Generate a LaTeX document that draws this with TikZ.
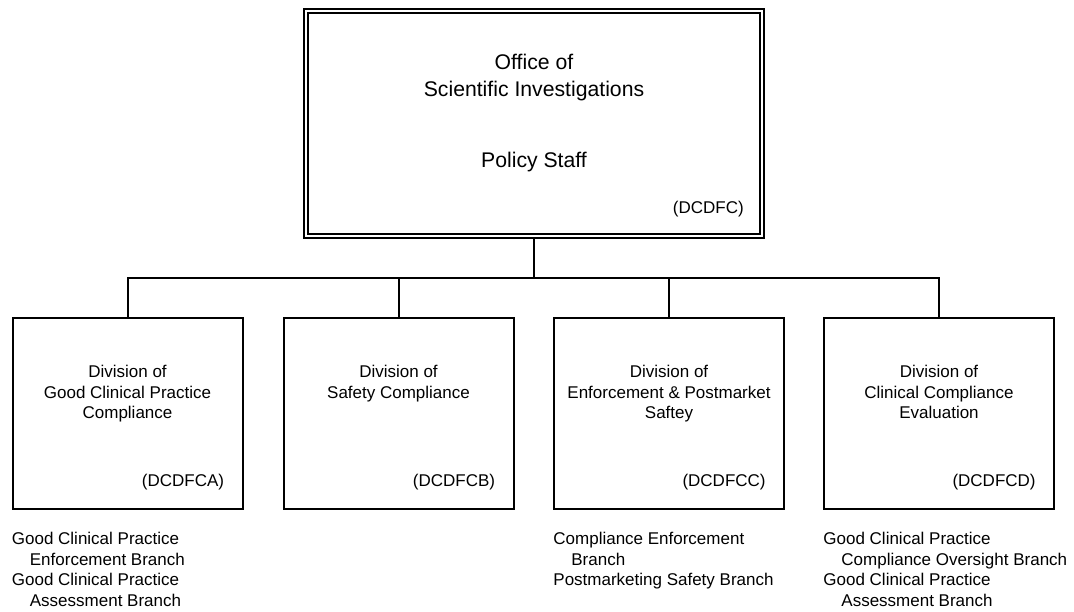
\documentclass[tikz,border=0pt]{standalone}
\usepackage{fontspec}
\setmainfont{Liberation Sans}
\usetikzlibrary{positioning}

\begin{document}
\begin{tikzpicture}[x=0.5pt, y=-0.5pt,
    office/.style={draw, double, double distance=1.2pt, line width=1.1pt,
      minimum width=228pt, minimum height=112.5pt, inner sep=0pt},
    division/.style={draw, line width=1pt, minimum width=115pt,
      minimum height=95.5pt, inner sep=0pt},
    bigtext/.style={align=center, inner sep=0pt,
      font=\fontsize{10.6}{13.5}\selectfont},
    divtext/.style={align=center, inner sep=0pt,
      font=\fontsize{8.5}{10.25}\selectfont},
    code/.style={inner sep=0pt, font=\fontsize{8.5}{10.25}\selectfont},
    branches/.style={align=left, inner sep=0pt,
      font=\fontsize{8.5}{10.25}\selectfont},
    link/.style={line width=1pt}
  ]

  % Size of the page
  \useasboundingbox (0,0) rectangle (1074,611);

  % Indent of the second line of a branch
  \newcommand{\brind}{\hspace*{9pt}}

  % The office on top
  \node[office] (osi) at (534,123.5) {};
  \node[bigtext, below=22pt of osi.north] (osiTitle) {Office of\\Scientific Investigations};
  \node[bigtext, below=71pt of osi.north] (osiStaff) {Policy Staff};
  \node[code, above left=9.75pt and 9.5pt of osi.south east] (osiCode) {(DCDFC)};

  % The four divisions
  \node[division] (divA) at (127.5,413.5) {};
  \node[division] (divB) at (398.5,413.5) {};
  \node[division] (divC) at (669,413.5) {};
  \node[division] (divD) at (939,413.5) {};

  \node[divtext, below=24pt of divA.north] (divAName) {Division of\\Good Clinical Practice\\Compliance};
  \node[divtext, below=24pt of divB.north] (divBName) {Division of\\Safety Compliance};
  \node[divtext, below=24pt of divC.north] (divCName) {Division of\\Enforcement \& Postmarket\\Saftey};
  \node[divtext, below=24pt of divD.north] (divDName) {Division of\\Clinical Compliance\\Evaluation};

  \node[code, above left=9.75pt and 9.5pt of divA.south east] (divACode) {(DCDFCA)};
  \node[code, above left=9.75pt and 9.5pt of divB.south east] (divBCode) {(DCDFCB)};
  \node[code, above left=9.75pt and 9.5pt of divC.south east] (divCCode) {(DCDFCC)};
  \node[code, above left=9.75pt and 9.5pt of divD.south east] (divDCode) {(DCDFCD)};

  % Branches under the divisions
  \node[branches, below right=11pt and 0pt of divA.south west] (divABr)
    {Good Clinical Practice\\\brind Enforcement Branch\\Good Clinical Practice\\\brind Assessment Branch};
  \node[branches, below right=11pt and 0pt of divC.south west] (divCBr)
    {Compliance Enforcement\\\brind Branch\\Postmarketing Safety Branch};
  \node[branches, below right=11pt and 0pt of divD.south west] (divDBr)
    {Good Clinical Practice\\\brind Compliance Oversight Branch\\Good Clinical Practice\\\brind Assessment Branch};

  % Lines of the chart
  \coordinate (bus) at (534,278);
  \draw[link] (osi.south) -- (bus);
  \foreach \d in {divA,divB,divC,divD}
    \draw[link] (\d.north) |- (bus);

\end{tikzpicture}
\end{document}
